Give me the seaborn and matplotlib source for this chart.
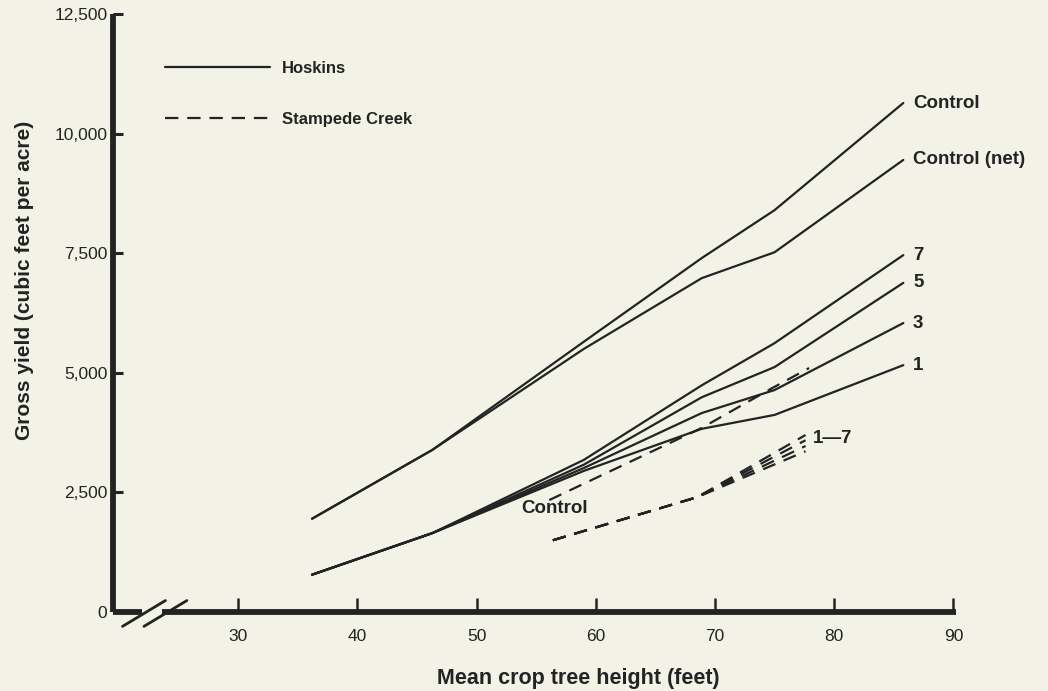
import matplotlib
matplotlib.use("Agg")
import matplotlib.pyplot as plt
import seaborn as sns
import pandas as pd

# Hoskins: mean crop tree height (ft) and gross yield (cu ft / acre)
hoskins_height = [36.2, 46.3, 59.0, 68.9, 75.0, 85.8]
hoskins_control = [1950, 3390, 5650, 7400, 8400, 10640]
hoskins_control_net = [1950, 3390, 5500, 6980, 7520, 9450]
hoskins_thin_1 = [780, 1650, 2950, 3830, 4120, 5160]
hoskins_thin_3 = [780, 1650, 3010, 4160, 4640, 6040]
hoskins_thin_5 = [780, 1650, 3080, 4490, 5120, 6880]
hoskins_thin_7 = [780, 1650, 3180, 4740, 5620, 7460]

# Stampede Creek
stampede_control_height = [56.1, 68.9, 74.8, 77.9]
stampede_control = [2340, 3850, 4680, 5100]
stampede_thin_height = [56.4, 68.5, 77.6]
stampede_thin_1 = [1500, 2400, 3360]
stampede_thin_3 = [1500, 2400, 3470]
stampede_thin_5 = [1500, 2400, 3590]
stampede_thin_7 = [1500, 2400, 3700]

x_ticks = [30, 40, 50, 60, 70, 80, 90]
y_ticks = [0, 2500, 5000, 7500, 10000, 12500]
y_tick_labels = ["0", "2,500", "5,000", "7,500", "10,000", "12,500"]

BG = "#f2f3e6"
INK = "#232323"

sns.set_theme(style="white")
plt.rcParams["font.family"] = ["Liberation Sans", "DejaVu Sans"]

fig = plt.figure(figsize=(10.48, 6.91), dpi=100, facecolor=BG)
ax = fig.add_axes([0.1078, 0.1143, 0.8053, 0.8654], facecolor=BG)

dash = (0, (6, 4))
lw = 1.6
label_size = 13.5

hoskins_series = [
    ("Control", hoskins_control),
    ("Control (net)", hoskins_control_net),
    ("7", hoskins_thin_7),
    ("5", hoskins_thin_5),
    ("3", hoskins_thin_3),
    ("1", hoskins_thin_1),
]
for name, values in hoskins_series:
    df = pd.DataFrame({"height": hoskins_height, "yield": values})
    sns.lineplot(data=df, x="height", y="yield", ax=ax, color=INK, linewidth=lw,
                 errorbar=None, sort=False,
                 label="Hoskins" if name == "Control" else None)
    ax.annotate(name, xy=(hoskins_height[-1], values[-1]), xytext=(7, 0),
                textcoords="offset points", ha="left", va="center",
                fontsize=label_size, fontweight="bold", color=INK)

df = pd.DataFrame({"height": stampede_control_height, "yield": stampede_control})
sns.lineplot(data=df, x="height", y="yield", ax=ax, color=INK, linewidth=lw,
             linestyle=dash, errorbar=None, sort=False, label="Stampede Creek")
ax.annotate("Control", xy=(stampede_control_height[0], stampede_control[0]),
            xytext=(4, -6), textcoords="offset points", ha="center", va="center",
            fontsize=label_size, fontweight="bold", color=INK)

for values in [stampede_thin_1, stampede_thin_3, stampede_thin_5, stampede_thin_7]:
    df = pd.DataFrame({"height": stampede_thin_height, "yield": values})
    sns.lineplot(data=df, x="height", y="yield", ax=ax, color=INK, linewidth=lw,
                 linestyle=dash, errorbar=None, sort=False, legend=False)
ends = [stampede_thin_1[-1], stampede_thin_3[-1], stampede_thin_5[-1], stampede_thin_7[-1]]
ax.annotate("1\u20147", xy=(stampede_thin_height[-1], sum(ends) / len(ends)),
            xytext=(5, 3), textcoords="offset points", ha="left", va="center",
            fontsize=label_size, fontweight="bold", color=INK)

# Legend
handles, labels = ax.get_legend_handles_labels()
leg = ax.legend(handles, labels, loc="upper left", bbox_to_anchor=(0.062, 0.922),
                frameon=False, handlelength=6.3, handletextpad=0.7,
                labelspacing=2.15, borderpad=0, borderaxespad=0,
                prop={"size": 12, "weight": "bold"})
for t in leg.get_texts():
    t.set_color(INK)

# Axes
ax.set_xlim(19.5, 90.3)
ax.set_ylim(0, 12500)
ax.set_xticks(x_ticks)
ax.set_yticks(y_ticks)
ax.set_yticklabels(y_tick_labels)
for s in ["top", "right"]:
    ax.spines[s].set_visible(False)
for s in ["left", "bottom"]:
    ax.spines[s].set_color(INK)
    ax.spines[s].set_linewidth(4.2)
    ax.spines[s].set_capstyle("butt")
ax.spines["left"].set_bounds(0, 12500)
ax.spines["bottom"].set_bounds(23.6, 90.2)
ax.tick_params(axis="y", left=True, direction="in", length=7, width=2.2, color=INK,
               labelsize=12.5, labelcolor=INK, pad=4)
ax.tick_params(axis="x", bottom=True, direction="in", length=10, width=1.8, color=INK,
               labelsize=12.5, labelcolor=INK, pad=12)

# Axis break on the x axis
ax.plot([19.5, 21.9], [0, 0], color=INK, lw=4.2, solid_capstyle="butt", clip_on=False)
for cx in (22.1, 23.9):
    ax.plot([cx - 1.8, cx + 1.8], [-300, 240], color=INK, lw=2.0, clip_on=False)

ax.set_xlabel("Mean crop tree height (feet)", fontsize=15.5, fontweight="bold", color=INK)
ax.set_ylabel("Gross yield (cubic feet per acre)", fontsize=15, fontweight="bold", color=INK)
ax.xaxis.set_label_coords(0.551, -0.093)
ax.yaxis.set_label_coords(-0.094, 0.555)

fig.savefig("out.png", dpi=100, facecolor=BG)
